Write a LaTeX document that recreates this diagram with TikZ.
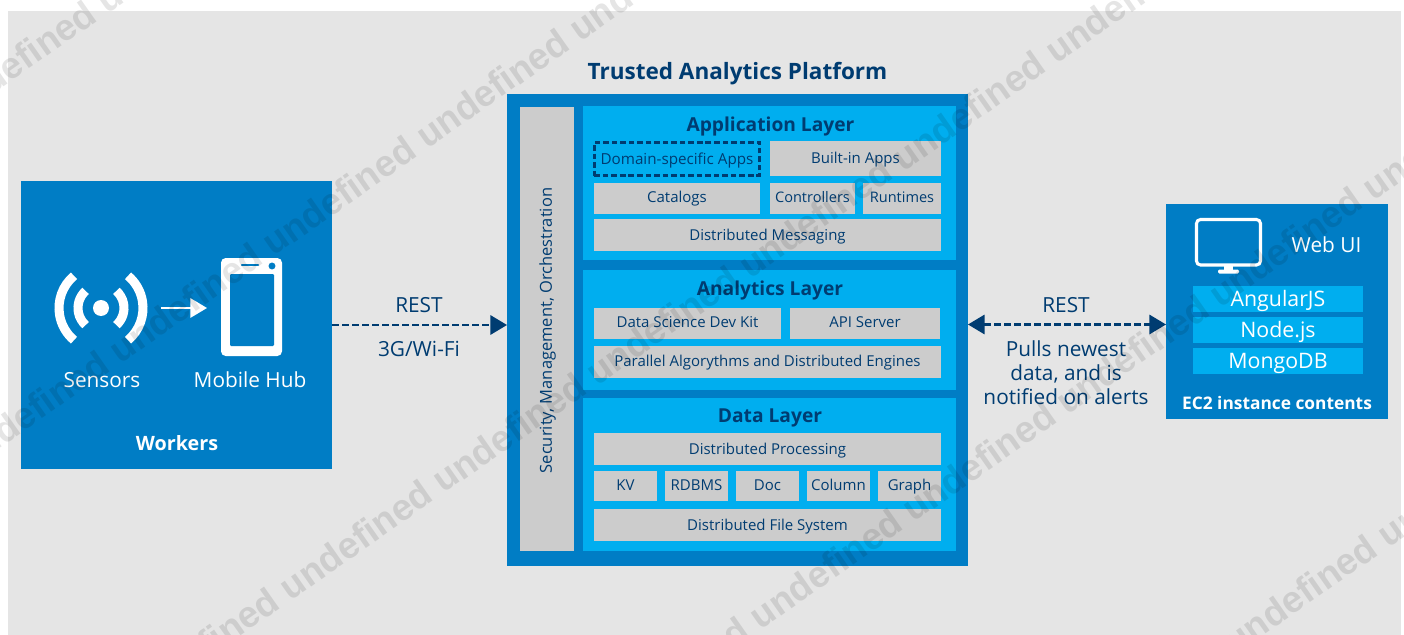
\documentclass[tikz,border=0pt]{standalone}
\usepackage{fontspec}
\setmainfont{Open Sans}
\newfontfamily\wmfont{Liberation Sans}
\usetikzlibrary{arrows.meta}
\definecolor{bgc}{HTML}{E5E5E5}
\definecolor{mid}{HTML}{007DC5}
\definecolor{lite}{HTML}{00AEEF}
\definecolor{gry}{HTML}{CCCCCC}
\definecolor{ink}{HTML}{003C71}
\newcommand{\fs}[1]{\fontsize{#1}{#1}\selectfont}
\newcommand{\up}[1]{\raisebox{0.75pt}{#1}}
\newcommand{\bx}[7]{\node[#6,minimum width={(#4-#2)*0.75pt},minimum height={(#5-#3)*0.75pt}] (#1) at ({(#2+#4)/2},{(#3+#5)/2}) {#7};}
\newcommand{\sarc}[3]{\draw[arcw] ([shift={(#1:{#3*0.75pt})}]sc) arc[start angle=#1,end angle=#2,radius={#3*0.75pt}];}
\tikzset{
 panel/.style={inner sep=0pt,outer sep=0pt,fill=mid,text=white},
 layer/.style={inner sep=0pt,outer sep=0pt,fill=lite},
 side/.style={inner sep=0pt,outer sep=0pt,fill=gry},
 item/.style={inner sep=0pt,outer sep=0pt,fill=gry,text=ink,font=\fs{11.25},text height=8pt,text depth=0pt},
 dashitem/.style={inner sep=0pt,outer sep=0pt,draw=ink,line width=1.9pt,dash pattern=on 4.2pt off 2.2pt,text=ink,font=\fs{11.4},text height=8pt,text depth=0pt},
 stack/.style={inner sep=0pt,outer sep=0pt,fill=lite,text=white,font=\fs{16},text height=11.4pt,text depth=0pt},
 head/.style={inner sep=0pt,text=ink,font=\bfseries\fs{14.4},text height=10.3pt,text depth=0pt},
 lbl/.style={inner sep=0pt,text=ink,font=\fs{15.6},text height=11.1pt,text depth=0pt},
 wlbl/.style={inner sep=0pt,text=white,font=\fs{15.6},text height=11.1pt,text depth=0pt},
 wbold/.style={inner sep=0pt,text=white,font=\bfseries\fs{14.8},text height=10.6pt,text depth=0pt},
 conn/.style={draw=ink,line width=1.8pt,dash pattern=on 5.4pt off 2.1pt},
 tipR/.style={-{Triangle[length=12.5pt,width=14.5pt,fill=ink]}},
 tipB/.style={{Triangle[length=12.5pt,width=14.5pt,fill=ink]}-{Triangle[length=12.5pt,width=14.5pt,fill=ink]}},
 wm/.style={inner sep=0pt,anchor=base west,rotate=35,text=black,text opacity=0.1,font=\wmfont\bfseries\fs{27.75}},
 arcw/.style={draw=white,line width=6.8pt,line cap=butt},
}
\newcommand{\wmtext}{undefined undefined undefined undefined undefined undefined undefined undefined undefined undefined undefined}
\begin{document}
\begin{tikzpicture}[x=0.75pt,y=-0.75pt]
\useasboundingbox (0,0) rectangle (1404,635);
\clip (0,0) rectangle (1404,635);
\fill[bgc] (8,11) rectangle (1401,635);
% Workers
\bx{workers}{21}{181}{332}{469}{panel}{}
\coordinate (sc) at (101,308);
\fill[white] (sc) circle[radius=6pt];
\sarc{132}{228}{23}
\sarc{-48}{48}{23}
\sarc{130}{230}{42}
\sarc{-50}{50}{42}
\node[wlbl] (sensors) at (102,380) {Sensors};
\bx{phone}{221}{258}{282}{356}{inner sep=0pt,outer sep=0pt,fill=white,rounded corners=3.5pt}{}
\bx{screen}{230}{274}{274}{346}{inner sep=0pt,outer sep=0pt,fill=mid,rounded corners=0.8pt}{}
\draw[mid,line width=1.6pt,line cap=round] (242,265) -- (258,265);
\fill[mid] (272,266) circle[radius=2.6pt];
\coordinate (flowA) at (161,308);
\coordinate (flowB) at (207,308);
\draw[white,line width=1.6pt,-{Triangle[length=12.5pt,width=14.5pt,fill=white]}] (flowA) -- (flowB);
\node[wlbl] (hub) at (250,380) {Mobile Hub};
\node[wbold] (workerstitle) at (177,443) {Workers};
% Platform
\node[head,font=\bfseries\fs{16.9},text height=12pt] (title) at (737.5,72) {Trusted Analytics Platform};
\bx{platform}{507}{94}{968}{566}{panel}{}
\bx{sidebar}{520}{107}{574}{551}{side}{}
\node[item,fill=none,rotate=90,font=\fs{12.37},text height=8.8pt] (sidetext) at (546,330.5) {Security, Management, Orchestration};
\bx{applayer}{583}{106}{956}{260}{layer}{}
\node[head] (apptitle) at (770.5,124.5) {Application Layer};
\bx{domain}{594.3}{142.3}{759.7}{175.7}{dashitem}{Domain-specific Apps}
\bx{builtin}{770}{141}{941}{176}{item}{Built-in Apps}
\bx{catalogs}{594}{183}{760}{214}{item}{\up{Catalogs}}
\bx{controllers}{770}{183}{855}{214}{item,font=\fs{10.9}}{\up{Controllers}}
\bx{runtimes}{863}{183}{941}{214}{item,font=\fs{10.9}}{\up{Runtimes}}
\bx{messaging}{594}{219}{941}{251}{item}{Distributed Messaging}
\bx{anlayer}{583}{270}{956}{390}{layer}{}
\node[head] (antitle) at (770,289) {Analytics Layer};
\bx{devkit}{594}{308}{781}{339}{item}{\up{Data Science Dev Kit}}
\bx{apiserver}{790}{308}{940}{339}{item}{\up{API Server}}
\bx{parallel}{594}{346}{941}{378}{item}{\up{Parallel Algorythms and Distributed Engines}}
\bx{datalayer}{583}{398}{956}{551}{layer}{}
\node[head] (datatitle) at (770,416) {Data Layer};
\bx{processing}{594}{433}{941}{465}{item}{Distributed Processing}
\bx{kv}{594}{471}{657}{501}{item}{\up{KV}}
\bx{rdbms}{665}{471}{728}{501}{item}{\up{RDBMS}}
\bx{doc}{736}{471}{799}{501}{item}{\up{Doc}}
\bx{column}{807}{471}{870}{501}{item}{\up{Column}}
\bx{graph}{878}{471}{941}{501}{item}{\up{Graph}}
\bx{dfs}{594}{509}{941}{541}{item}{Distributed File System}
% EC2
\bx{ec2}{1166}{204}{1388}{419}{panel}{}
\bx{monitor}{1196.5}{219.5}{1260.5}{265}{inner sep=0pt,outer sep=0pt,draw=white,line width=2.3pt,rounded corners=3pt}{}
\fill[white] (1224,266) rectangle (1233,271);
\fill[white,rounded corners=1pt] (1218,269.5) rectangle (1239,273.5);
\node[wlbl] (webui) at (1326.5,245) {Web UI};
\bx{angular}{1193}{286}{1363}{312}{stack}{AngularJS}
\bx{nodejs}{1193}{317}{1363}{343}{stack}{Node.js}
\bx{mongo}{1193}{348}{1363}{374}{stack}{MongoDB}
\node[wbold,font=\bfseries\fs{13},text height=9.3pt] (ec2title) at (1277,403.5) {EC2 instance contents};
% Connectors
\draw[conn,tipR] (workers.east |- 0,325) -- (platform.west |- 0,325);
\node[lbl] (rest1) at (419,305.5) {REST};
\node[lbl] (wifi) at (419,349.5) {3G/Wi-Fi};
\draw[conn,tipB] (platform.east |- 0,324.5) -- (ec2.west |- 0,324.5);
\node[lbl] (rest2) at (1066,305.5) {REST};
\node[lbl] (pull1) at (1066,349.5) {Pulls newest};
\node[lbl] (pull2) at (1066,373.5) {data, and is};
\node[lbl] (pull3) at (1066,397) {notified on alerts};
% Watermark
\node[wm] (wmA) at (-199,229) {\wmtext};
\node[wm] (wmB) at (-186,579) {\wmtext};
\node[wm] (wmC) at (-16,816) {\wmtext};
\node[wm] (wmD) at (454,845) {\wmtext};
\node[wm] (wmE) at (1082,763) {\wmtext};
\end{tikzpicture}
\end{document}
